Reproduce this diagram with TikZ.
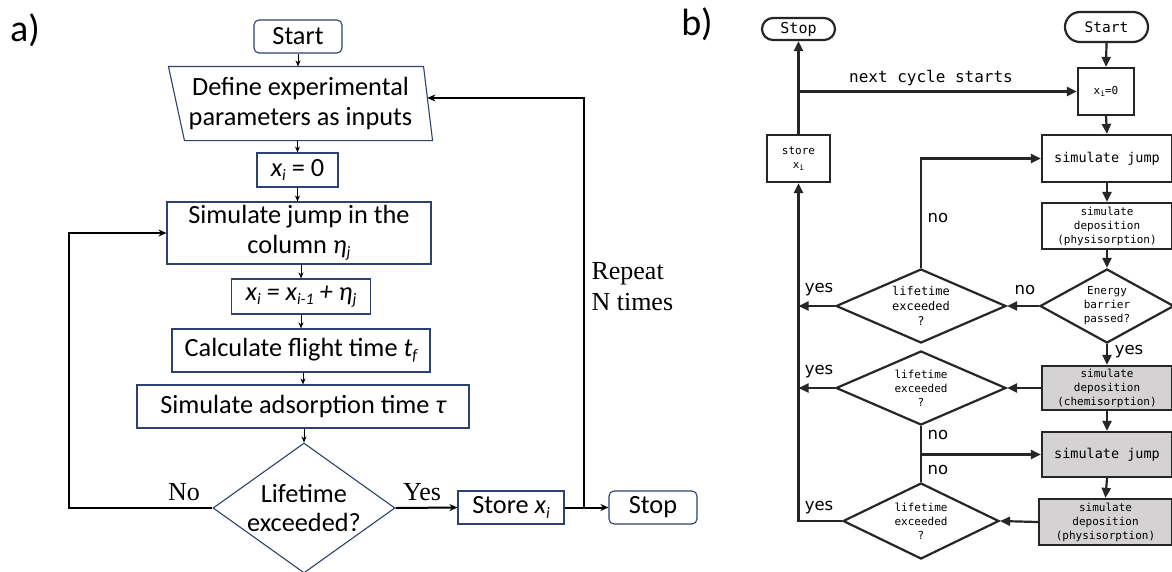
\documentclass[tikz,border=0pt]{standalone}
\usepackage{fontspec}
\setmainfont{Carlito}
\newfontfamily\serifA{Liberation Serif}
\newfontfamily\monoB{DejaVu Sans Mono}
\newfontfamily\sansB{DejaVu Sans}
\usetikzlibrary{arrows.meta,calc,shapes.geometric}
\definecolor{navy}{RGB}{44,66,112}
\definecolor{bline}{RGB}{38,38,38}
\definecolor{bgray}{RGB}{212,210,210}
\newcommand{\subx}[1]{\raisebox{-0.35ex}{\fontsize{16}{16}\selectfont\itshape #1}}
\newcommand{\subm}[1]{\raisebox{-0.3ex}{\fontsize{8}{8}\selectfont #1}}
\tikzset{
  atext/.style={font=\fontsize{26.3}{29.5}\selectfont},
  abox/.style={draw=navy, line width=1.1pt, fill=white, inner sep=0pt, align=center, atext},
  aterm/.style={abox, rounded corners=5pt},
  athin/.style={draw=black, line width=1pt, -{Stealth[length=6pt,width=5pt]}},
  athick/.style={draw=black, line width=2pt, -{Stealth[length=8pt,width=7pt]}},
  alab/.style={font=\serifA\fontsize{26}{31}\selectfont},
  plabel/.style={font=\fontsize{38}{38}\selectfont},
  btext/.style={font=\monoB\fontsize{11}{14}\selectfont},
  bbox/.style={draw=bline, line width=2.2pt, fill=white, inner sep=0pt, align=center, btext},
  bgbox/.style={bbox, fill=bgray},
  bdia/.style={diamond, draw=bline, line width=2.2pt, fill=white, inner sep=0pt},
  barr/.style={draw=bline, line width=2.2pt, -{Triangle[length=10pt,width=9pt]}},
  bline/.style={draw=bline, line width=2.2pt},
  blab/.style={font=\sansB\fontsize{16.5}{16.5}\selectfont},
}
\begin{document}
\begin{tikzpicture}[x=1pt,y=-1pt]
\useasboundingbox (0,0) rectangle (1172,571);
\fill[white] (0,0) rectangle (1172,571);

% ---------------- panel a ----------------
\node[plabel] (la) at (25,30) {a)};
\node[aterm, minimum width=88pt, minimum height=33pt] (aStart) at (298,36.5) {Start};
\node[abox, draw=none, fill=none, minimum width=263pt, minimum height=73pt] (par) at (300.5,103.5) {Define experimental\\parameters as inputs};
\coordinate (pTL) at (par.north west);
\coordinate (pTR) at ($(par.north east)+(-9,0)$);
\coordinate (pBR) at (par.south east);
\coordinate (pBL) at ($(par.south west)+(16,0)$);
\draw[draw=navy, line width=1.1pt] (pTL) -- (pTR) -- (pBR) -- (pBL) -- cycle;
\coordinate (parR) at ($(pTR)!0.425!(pBR)$);
\node[abox, minimum width=81pt, minimum height=34pt] (ax0) at (297.5,170) {{\itshape x\subx{i}} = 0};
\node[abox, minimum width=264pt, minimum height=62pt] (ajump) at (299,233) {Simulate jump in the\\column {\itshape η\subx{j}}};
\node[abox, minimum width=139pt, minimum height=35pt] (axi) at (301,296.5) {\itshape x\subx{i} = x\subx{i-1} + η\subx{j}};
\node[abox, minimum width=258pt, minimum height=43pt] (acalc) at (301,350.5) {Calculate flight time {\itshape t\subx{f}}};
\node[abox, minimum width=332pt, minimum height=43pt] (asim) at (303,406.5) {Simulate adsorption time {\itshape τ}};
\node[diamond, draw=navy, line width=1.1pt, fill=white, inner sep=0pt, minimum width=182pt, minimum height=130pt,
      label={[atext, align=center]center:Lifetime\\exceeded?}] (adia) at (304,508) {};
\node[abox, minimum width=106pt, minimum height=33pt] (astore) at (511,507.5) {Store {\itshape x\subx{i}}};
\node[aterm, minimum width=88pt, minimum height=33pt] (astop) at (653,507.5) {Stop};

\draw[athin] (aStart.south) -- (aStart.south |- pTL);
\draw[athin] (ax0.north |- pBL) -- (ax0.north);
\draw[athin] (ax0.south) -- (ax0.south |- ajump.north);
\draw[athin] (ajump.south -| axi.north) -- (axi.north);
\draw[athin] (axi.south -| acalc.north) -- (acalc.north);
\draw[athin] (acalc.south -| asim.north) -- (asim.north);
\draw[athin] (asim.south -| adia.north) -- (adia.north);

\coordinate (alx) at (69,233);
\draw[athick] (adia.west) -| (alx) -- (ajump.west);
\draw[athick] (adia.east) -- (astore.west);
\draw[athick] (astore.east) -- (astop.west);
\coordinate (arj) at (584,507.5);
\draw[athick] (arj) |- (parR);

\node[alab] (lno) at (184,492) {No};
\node[alab] (lyes) at (422,492) {Yes};
\node[alab, align=left, anchor=west] (lrep) at (588,287) {Repeat\\N times};

% ---------------- panel b ----------------
\node[plabel] (lb) at (697,24) {b)};
\node[bbox, rounded corners=11pt, minimum width=73pt, minimum height=22pt, font=\monoB\fontsize{15}{15}\selectfont] (bStop) at (798.5,29) {Stop};
\node[bbox, rounded corners=15pt, minimum width=83pt, minimum height=30pt, font=\monoB\fontsize{14.5}{15}\selectfont] (bStart) at (1106.5,27) {Start};
\node[bbox, minimum width=56pt, minimum height=47pt] (bx0) at (1106,91.5) {x\subm{i}=0};
\node[bbox, minimum width=130pt, minimum height=47pt, font=\monoB\fontsize{13.5}{14}\selectfont] (bjump1) at (1107,158.5) {simulate jump};
\node[bbox, minimum width=63pt, minimum height=47pt] (bstore) at (798.5,158.5) {store\\x\subm{i}};
\node[bbox, minimum width=130pt, minimum height=46pt] (bphys1) at (1107,226) {simulate\\deposition\\(physisorption)};
\node[bdia, minimum width=134pt, minimum height=74pt,
      label={[btext, align=center]center:Energy\\barrier\\passed?}] (benergy) at (1107,306) {};
\node[bdia, minimum width=170pt, minimum height=74pt,
      label={[btext, align=center, font=\monoB\fontsize{12}{15}\selectfont]center:lifetime\\exceeded\\?}] (blife1) at (921,306) {};
\node[bgbox, minimum width=130pt, minimum height=44pt] (bchem) at (1107,388) {simulate\\deposition\\(chemisorption)};
\node[bdia, minimum width=170pt, minimum height=74pt,
      label={[btext, align=center]center:lifetime\\exceeded\\?}] (blife2) at (921,388) {};
\node[bgbox, minimum width=130pt, minimum height=45pt, font=\monoB\fontsize{13.5}{14}\selectfont] (bjump2) at (1107,454.5) {simulate jump};
\node[bgbox, minimum width=133pt, minimum height=46pt] (bphys2) at (1105.5,522) {simulate\\deposition\\(physisorption)};
\node[bdia, minimum width=156pt, minimum height=76pt,
      label={[btext, align=center]center:lifetime\\exceeded\\?}] (blife3) at (921,521) {};

\draw[barr] (bStart.south) -- (bx0.north);
\draw[barr] (bx0.south) -- (bjump1.north);
\draw[barr] (bjump1.south) -- (bphys1.north);
\draw[barr] (bphys1.south) -- (benergy.north);
\draw[barr] (benergy.west) -- (blife1.east);
\draw[barr] (benergy.south) -- (bchem.north);
\draw[barr] (bchem.west) -- (blife2.east);
\draw[barr] (bchem.south) -- (bjump2.north);
\draw[barr] (bjump2.south) -- (bphys2.north);
\draw[barr] (bphys2.west) -- (blife3.east);
\draw[barr] (blife1.north) |- (bjump1.west);
\draw[barr] (blife1.west) -- (blife1.west -| bstore.south);
\draw[barr] (blife2.west) -- (blife2.west -| bstore.south);
\draw[barr] (blife3.west) -| (bstore.south);
\draw[bline] (blife2.south) -- (blife3.north);
\coordinate (bbr) at (blife2.south |- bjump2.west);
\draw[barr] (bbr) -- (bjump2.west);
\draw[barr] (bstore.north) -- (bStop.south);
\coordinate (bnc) at (bstore.north |- bx0.west);
\draw[barr] (bnc) -- (bx0.west);

\node[font=\monoB\fontsize{16}{16}\selectfont] (bnext) at (931,78) {next cycle starts};
\node[blab, anchor=west] (bn1) at (924,218) {no};
\node[blab] (by1) at (819,290) {yes};
\node[blab] (bn2) at (1025,290) {no};
\node[blab] (by2) at (1129,352) {yes};
\node[blab] (by3) at (819,372) {yes};
\node[blab, anchor=west] (bn3) at (924,435) {no};
\node[blab, anchor=west] (bn4) at (924,470) {no};
\node[blab] (by4) at (819,508) {yes};
\end{tikzpicture}
\end{document}
